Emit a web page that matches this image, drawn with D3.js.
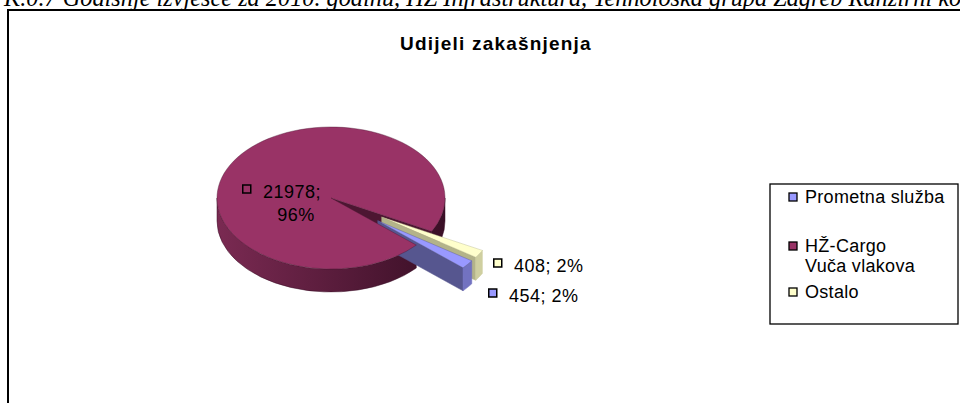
<!DOCTYPE html>
<html>
<head>
<meta charset="utf-8">
<script src="https://cdn.jsdelivr.net/npm/d3@7"></script>
<style>
  body { margin: 0; background: #fff; }
  text { font-family: "Liberation Sans", Arial, sans-serif; }
</style>
</head>
<body>
<div id="chart"></div>
<script>
// chart data
const categories = ['Prometna služba', 'HŽ-Cargo Vuča vlakova', 'Ostalo'];
const legendLines = [['Prometna služba'], ['HŽ-Cargo', 'Vuča vlakova'], ['Ostalo']];
const values = [454, 21978, 408];
const colors = ['#9999FF', '#993366', '#FFFFCC'];
const chartTitle = 'Udijeli zakašnjenja';
const headerText = 'K.0.7 Godišnje izvješće za 2010. godinu, HŽ Infrastruktura, Tehnološka grupa Zagreb Ranžirni kolodvor';

const width = 960, height = 403;

const svg = d3.select('#chart')
    .append('svg')
    .attr('width', width)
    .attr('height', height);

// header line of the document, cut off at the top
svg.append('text')
    .attr('x', 4)
    .attr('y', 6)
    .style('font-family', '"Liberation Serif", "Times New Roman", serif')
    .style('font-style', 'italic')
    .style('font-size', '24.3px')
    .text(headerText);

// chart frame
svg.append('path')
    .attr('d', 'M8,403 L8,10 L962,10')
    .attr('fill', 'none')
    .attr('stroke', '#000')
    .attr('stroke-width', 2);

svg.append('text')
    .attr('x', 496)
    .attr('y', 50)
    .attr('text-anchor', 'middle')
    .style('font-weight', 'bold')
    .style('font-size', '19px')
    .style('letter-spacing', '1.2px')
    .text(chartTitle);

// 3d pie geometry
const cx = 331, cy = 198, rx = 114, ry = 71, depth = 23, explode = 0.52;

const shades = {
    '#993366': { wall: '#4d1632', left: '#7a2a52', right: '#3a0f26' },
    '#9999FF': { wall: '#56568f', left: '#8585d8', right: '#7272c0' },
    '#FFFFCC': { wall: '#b3b389', left: '#dedeb0', right: '#cfcfa0' }
};

const defs = svg.append('defs');
colors.forEach((c, i) => {
    const g = defs.append('linearGradient')
        .attr('id', 'side' + i)
        .attr('gradientUnits', 'userSpaceOnUse')
        .attr('x1', cx - rx).attr('x2', cx + rx)
        .attr('y1', 0).attr('y2', 0);
    g.append('stop').attr('offset', '0%').attr('stop-color', shades[c].left);
    g.append('stop').attr('offset', '100%').attr('stop-color', shades[c].right);
});

// start so that the two small slices point to the lower right
const startAngle = 124.4 * Math.PI / 180;
const pie = d3.pie().sort(null).startAngle(startAngle).endAngle(startAngle + 2 * Math.PI);
const arcs = pie(values);
const total = d3.sum(values);

// screen angle: 0 at 3 o'clock, clockwise
function pt(phi, r, z, o) {
    return [cx + o[0] + r * rx * Math.cos(phi), cy + o[1] + r * ry * Math.sin(phi) + z];
}

const slices = arcs.map((d, i) => {
    const a = d.startAngle - Math.PI / 2, b = d.endAngle - Math.PI / 2;
    const mid = (a + b) / 2;
    const e = values[i] / total < 0.5 ? explode : 0;
    return { i, a, b, c: colors[i], o: [e * rx * Math.cos(mid), e * ry * Math.sin(mid)] };
});

// big slice first, then the exploded ones (Ostalo behind Prometna)
const order = [1, 2, 0];
const wallsG = svg.append('g');
const topsG = svg.append('g');

order.forEach(k => {
    const s = slices[k];
    const { a, b, c, o } = s;
    const g = wallsG.append('g');

    // radial walls facing the viewer
    [[a, -Math.cos(a) > 0], [b, Math.cos(b) > 0]].forEach(([ang, vis]) => {
        if (!vis) return;
        const p0 = pt(ang, 0, 0, o), p1 = pt(ang, 1, 0, o), p2 = pt(ang, 1, depth, o), p3 = pt(ang, 0, depth, o);
        g.append('path')
            .attr('d', 'M' + p0 + 'L' + p1 + 'L' + p2 + 'L' + p3 + 'Z')
            .attr('fill', shades[c].wall)
            .attr('stroke', shades[c].wall)
            .attr('stroke-width', 0.5);
    });

    // outer curved wall, only the front half
    for (let n = -1; n <= 2; n++) {
        const lo = Math.max(a, 2 * Math.PI * n), hi = Math.min(b, 2 * Math.PI * n + Math.PI);
        if (hi <= lo) continue;
        const t0 = pt(lo, 1, 0, o), t1 = pt(hi, 1, 0, o), b1 = pt(hi, 1, depth, o), b0 = pt(lo, 1, depth, o);
        g.append('path')
            .attr('d', 'M' + t0 + 'A' + rx + ',' + ry + ' 0 0 1 ' + t1 + 'L' + b1 +
                'A' + rx + ',' + ry + ' 0 0 0 ' + b0 + 'Z')
            .attr('fill', 'url(#side' + s.i + ')')
            .attr('stroke', shades[c].right)
            .attr('stroke-width', 0.5);
    }

    // top face, drawn above every wall
    const c0 = pt(0, 0, 0, o), r0 = pt(a, 1, 0, o), r1 = pt(b, 1, 0, o);
    topsG.append('path')
        .attr('d', 'M' + c0 + 'L' + r0 + 'A' + rx + ',' + ry + ' 0 ' + (b - a > Math.PI ? 1 : 0) + ' 1 ' + r1 + 'Z')
        .attr('fill', c)
        .attr('stroke', shades[c].wall)
        .attr('stroke-width', 0.4);
});

// data labels
const pct = v => Math.round(v / total * 100) + '%';
const labelPos = [
    { x: 488, y: 302, lines: [values[0] + '; ' + pct(values[0])] },
    { x: 242, y: 198, lines: [values[1] + ';', pct(values[1])] },
    { x: 493, y: 272, lines: [values[2] + '; ' + pct(values[2])] }
];

labelPos.forEach((l, i) => {
    const g = svg.append('g');
    g.append('rect')
        .attr('x', l.x + 0.75).attr('y', l.y - 13)
        .attr('width', 8).attr('height', 8)
        .attr('fill', colors[i])
        .attr('stroke', '#000')
        .attr('stroke-width', 1.5);
    const t = g.append('text')
        .attr('x', l.x + 21)
        .attr('y', l.y)
        .style('font-size', '18px')
        .style('letter-spacing', '0.5px');
    t.append('tspan').text(l.lines[0]);
    if (l.lines.length > 1) {
        t.append('tspan').attr('x', l.x + 54).attr('y', l.y + 23)
            .attr('text-anchor', 'middle').text(l.lines[1]);
    }
});

// legend
const legend = svg.append('g');
legend.append('rect')
    .attr('x', 770).attr('y', 184)
    .attr('width', 188).attr('height', 140)
    .attr('fill', '#fff')
    .attr('stroke', '#000')
    .attr('stroke-width', 1.3);

const legendY = [203, 252, 298];
categories.forEach((cat, i) => {
    legend.append('rect')
        .attr('x', 789).attr('y', legendY[i] - 10)
        .attr('width', 8).attr('height', 8)
        .attr('fill', colors[i])
        .attr('stroke', '#000')
        .attr('stroke-width', 1.3);
    const t = legend.append('text')
        .attr('x', 805).attr('y', legendY[i])
        .style('font-size', '18px')
        .style('letter-spacing', '0.3px');
    legendLines[i].forEach((line, j) => {
        t.append('tspan').attr('x', 805).attr('y', legendY[i] + j * 20).text(line);
    });
});
</script>
</body>
</html>
